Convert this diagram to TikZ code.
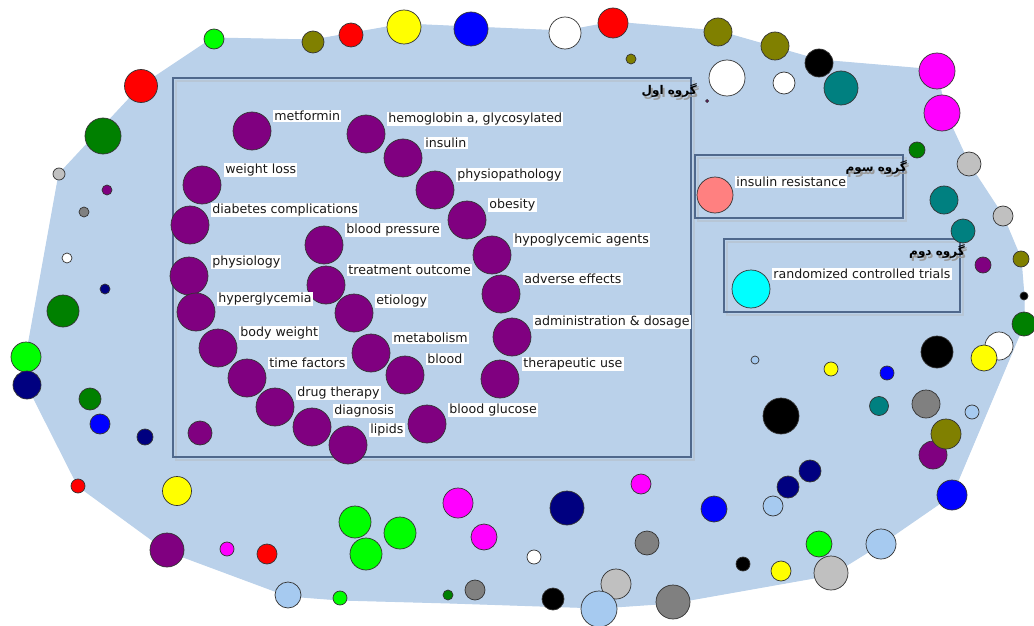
\documentclass[tikz,border=0pt]{standalone}
\usepackage{fontspec}
\setmainfont{DejaVu Sans}
\newfontfamily\fafont[Script=Arabic]{DejaVu Sans}
\TeXXeTstate=1
\definecolor{hull}{RGB}{186,209,234}
\definecolor{grpc}{RGB}{79,104,140}
\definecolor{cpur}{RGB}{128,0,128}
\definecolor{cdgreen}{RGB}{0,128,0}
\definecolor{clgreen}{RGB}{0,255,0}
\definecolor{colive}{RGB}{128,128,0}
\definecolor{cnavy}{RGB}{0,0,128}
\definecolor{cteal}{RGB}{0,128,128}
\definecolor{clblue}{RGB}{166,202,240}
\definecolor{clgrey}{RGB}{192,192,192}
\definecolor{cgrey}{RGB}{128,128,128}
\definecolor{cpink}{RGB}{255,128,128}
\definecolor{cred}{RGB}{255,0,0}
\definecolor{cblue}{RGB}{0,0,255}
\definecolor{cyel}{RGB}{255,255,0}
\definecolor{cmag}{RGB}{255,0,255}
\definecolor{ccyan}{RGB}{0,255,255}
\tikzset{
  nd/.style={circle, draw=black!80, line width=0.7pt, inner sep=0pt},
  lab/.style={fill=white, inner sep=1.2pt, anchor=west, text=black!90,
              font=\fontsize{12.6}{14}\selectfont},
  grp/.style={draw=grpc, line width=1.3pt},
  grpshadow/.style={draw=black!30, line width=2.5pt, opacity=0.35},
  fa/.style={anchor=east, inner sep=0pt, font=\fafont\bfseries\fontsize{12}{14}\selectfont},
}
\newcommand\dotnode[5]{\node[nd,fill=#5,minimum size={2*#4 pt}] (#1) at (#2,#3) {};}
\newcommand\pnode[3]{\node[nd,fill=cpur,minimum size=38pt] (#1) at (#2,#3) {};}
\newcommand\fatitle[1]{\rlap{\kern2pt\raisebox{-3pt}{\textcolor{black!40}{\beginR #1\endR}}}\beginR #1\endR}
\begin{document}
\begin{tikzpicture}[x=1pt,y=-1pt]
\useasboundingbox (0,0) rectangle (1034,626);
\fill[white] (0,0) rectangle (1034,626);
% dense edge cloud
\fill[hull, draw=hull, line width=1pt, line join=round]
 (141,86) -- (213,38) -- (313,40) -- (404,24) -- (471,27) -- (565,31) -- (613,22)
 -- (718,31) -- (819,60) -- (937,70) -- (945,112) -- (969,164) -- (1003,216)
 -- (1021,259) -- (1024,296) -- (1024,324) -- (952,495) -- (881,544) -- (831,575)
 -- (673,603) -- (600,608) -- (450,603) -- (340,600) -- (288,596) -- (167,551)
 -- (78,486) -- (27,385) -- (26,357) -- (59,174) -- cycle;

% group boxes
\draw[grpshadow] (176,81) rectangle (694,460);
\draw[grpshadow] (698,158) rectangle (906,221);
\draw[grpshadow] (727,242) rectangle (963,315);
\draw[grp] (173,78) rectangle (691,457);
\draw[grp] (695,155) rectangle (903,218);
\draw[grp] (724,239) rectangle (960,312);

% outer nodes
\dotnode{c1}{214}{39}{10}{clgreen}
\dotnode{c2}{313}{42}{11}{colive}
\dotnode{c3}{351}{35}{12}{cred}
\dotnode{c4}{404}{27}{17}{cyel}
\dotnode{c5}{471}{29}{17}{cblue}
\dotnode{c6}{141}{86}{16.5}{cred}
\dotnode{c7}{103}{136}{18}{cdgreen}
\dotnode{c8}{59}{174}{6}{clgrey}
\dotnode{c9}{107}{190}{5}{cpur}
\dotnode{c10}{84}{212}{5}{cgrey}
\dotnode{c11}{67}{258}{5}{white}
\dotnode{c12}{105}{289}{5}{cnavy}
\dotnode{c13}{63}{311}{16}{cdgreen}
\dotnode{c14}{26}{357}{15}{clgreen}
\dotnode{c15}{27}{385}{14}{cnavy}
\dotnode{c16}{90}{399}{11}{cdgreen}
\dotnode{c17}{100}{424}{10}{cblue}
\dotnode{c18}{145}{437}{8}{cnavy}
\dotnode{c19}{78}{486}{7}{cred}
\dotnode{c20}{177}{491}{14.5}{cyel}
\dotnode{c21}{167}{550}{17}{cpur}
\dotnode{c22}{227}{549}{7}{cmag}
\dotnode{c23}{267}{554}{10}{cred}
\dotnode{c24}{288}{595}{13}{clblue}
\dotnode{c25}{340}{598}{7}{clgreen}
\dotnode{c26}{355}{522}{16}{clgreen}
\dotnode{c27}{400}{533}{16}{clgreen}
\dotnode{c28}{366}{554}{16}{clgreen}
\dotnode{c29}{458}{503}{15}{cmag}
\dotnode{c30}{484}{537}{13}{cmag}
\dotnode{c31}{448}{595}{5}{cdgreen}
\dotnode{c32}{475}{590}{10}{cgrey}
\dotnode{c33}{200}{433}{12}{cpur}
\dotnode{c34}{641}{484}{10}{cmag}
\dotnode{c35}{567}{508}{17}{cnavy}
\dotnode{c36}{534}{557}{7}{white}
\dotnode{c37}{647}{543}{12}{cgrey}
\dotnode{c38}{553}{599}{11}{black}
\dotnode{c39}{616}{584}{15}{clgrey}
\dotnode{c40}{599}{609}{18}{clblue}
\dotnode{c41}{673}{602}{17}{cgrey}
\dotnode{c42}{714}{509}{13}{cblue}
\dotnode{c43}{743}{564}{7}{black}
\dotnode{c44}{781}{571}{10}{cyel}
\dotnode{c45}{819}{544}{13}{clgreen}
\dotnode{c46}{831}{573}{17}{clgrey}
\dotnode{c47}{881}{544}{15}{clblue}
\dotnode{c48}{952}{495}{15}{cblue}
\dotnode{c49}{773}{506}{10}{clblue}
\dotnode{c50}{788}{487}{11}{cnavy}
\dotnode{c51}{810}{471}{11}{cnavy}
\dotnode{c52}{781}{416}{18}{black}
\dotnode{c53}{755}{360}{4}{clblue}
\dotnode{c54}{831}{369}{7}{cyel}
\dotnode{c55}{887}{373}{7}{cblue}
\dotnode{c56}{879}{406}{9.5}{cteal}
\dotnode{c57}{926}{404}{14}{cgrey}
\dotnode{c58}{972}{412}{7}{clblue}
\dotnode{c59}{933}{455}{14}{cpur}
\dotnode{c60}{946}{434}{15}{colive}
\dotnode{c61}{937}{352}{16}{black}
\dotnode{c62}{999}{346}{14}{white}
\dotnode{c63}{984}{358}{13}{cyel}
\dotnode{c64}{1024}{324}{12}{cdgreen}
\dotnode{c65}{565}{33}{16}{white}
\dotnode{c66}{613}{23}{15}{cred}
\dotnode{c67}{631}{59}{5}{colive}
\dotnode{c68}{718}{32}{14}{colive}
\dotnode{c69}{775}{46}{14}{colive}
\dotnode{c70}{819}{63}{14}{black}
\dotnode{c71}{727}{78}{18}{white}
\dotnode{c72}{784}{83}{11}{white}
\dotnode{c73}{841}{88}{17}{cteal}
\dotnode{c74}{937}{71}{18}{cmag}
\dotnode{c75}{942}{113}{18}{cmag}
\dotnode{c76}{707}{101}{1.5}{cpur}
\dotnode{c77}{917}{150}{8}{cdgreen}
\dotnode{c78}{969}{164}{12}{clgrey}
\dotnode{c79}{944}{200}{14}{cteal}
\dotnode{c80}{1003}{216}{10}{clgrey}
\dotnode{c81}{963}{231}{12}{cteal}
\dotnode{c82}{983}{265}{8}{cpur}
\dotnode{c83}{1021}{259}{8}{colive}
\dotnode{c84}{1024}{296}{4}{black}
\dotnode{ir}{715}{195}{18}{cpink}
\dotnode{rct}{751}{289}{19}{ccyan}

% group one nodes
\pnode{metf}{252}{131}
\pnode{hba}{366}{134}
\pnode{ins}{403}{158}
\pnode{phpa}{435}{190}
\pnode{obes}{467}{220}
\pnode{hypo}{492}{255}
\pnode{adv}{501}{294}
\pnode{adm}{512}{337}
\pnode{ther}{500}{379}
\pnode{wl}{202}{185}
\pnode{dc}{190}{225}
\pnode{phys}{189}{276}
\pnode{hyper}{196}{312}
\pnode{bp}{324}{245}
\pnode{to}{326}{285}
\pnode{etio}{354}{313}
\pnode{bw}{218}{348}
\pnode{tf}{247}{378}
\pnode{dt}{275}{407}
\pnode{diag}{312}{427}
\pnode{lip}{348}{445}
\pnode{meta}{371}{353}
\pnode{blood}{405}{375}
\pnode{bg}{427}{424}

% labels
\node[lab] (l-metf) at (273,116) {metformin};
\node[lab] (l-hba) at (387,119) {hemoglobin a, glycosylated};
\node[lab] (l-ins) at (424,143) {insulin};
\node[lab] (l-phpa) at (456,175) {physiopathology};
\node[lab] (l-obes) at (488,205) {obesity};
\node[lab] (l-hypo) at (513,240) {hypoglycemic agents};
\node[lab] (l-adv) at (523,279) {adverse effects};
\node[lab] (l-adm) at (533,322) {administration \& dosage};
\node[lab] (l-ther) at (522,364) {therapeutic use};
\node[lab] (l-wl) at (224,170) {weight loss};
\node[lab] (l-dc) at (211,210) {diabetes complications};
\node[lab] (l-phys) at (211,262) {physiology};
\node[lab] (l-hyper) at (217,299) {hyperglycemia};
\node[lab] (l-bp) at (345,230) {blood pressure};
\node[lab] (l-to) at (347,270) {treatment outcome};
\node[lab] (l-etio) at (375,301) {etiology};
\node[lab] (l-bw) at (239,333) {body weight};
\node[lab] (l-tf) at (268,363) {time factors};
\node[lab] (l-dt) at (296,393) {drug therapy};
\node[lab] (l-diag) at (333,411) {diagnosis};
\node[lab] (l-lip) at (369,430) {lipids};
\node[lab] (l-meta) at (392,338) {metabolism};
\node[lab] (l-blood) at (426,359) {blood};
\node[lab] (l-bg) at (448,410) {blood glucose};
\node[lab] (l-ir) at (735,182) {insulin resistance};
\node[lab] (l-rct) at (772,274) {randomized controlled trials};

% group titles
\node[fa] (g1) at (697,92) {\fatitle{گروه اول}};
\node[fa] (g3) at (907,169) {\fatitle{گروه سوم}};
\node[fa] (g2) at (965,253) {\fatitle{گروه دوم}};
\end{tikzpicture}
\end{document}
